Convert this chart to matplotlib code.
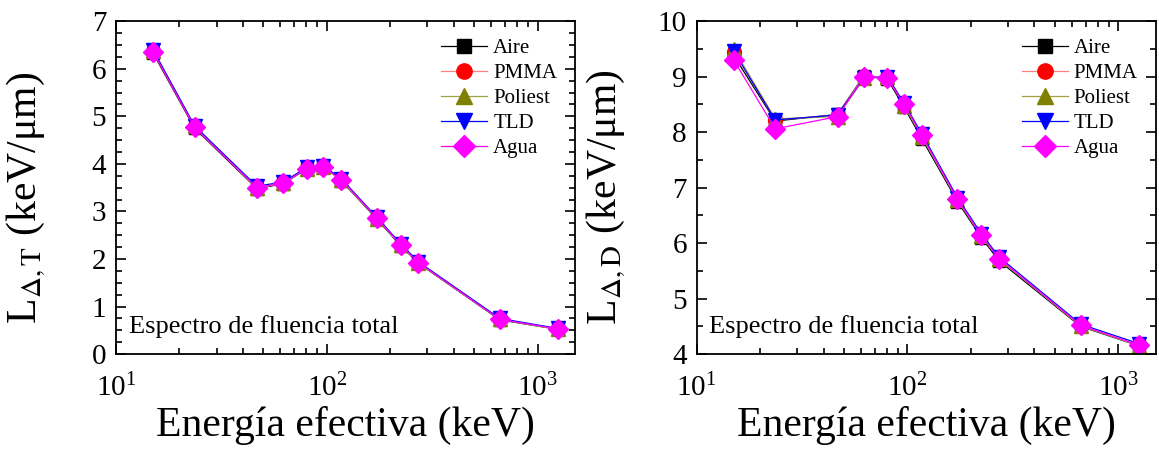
import matplotlib
matplotlib.use("Agg")
import matplotlib.pyplot as plt
from matplotlib.ticker import LogLocator, MultipleLocator, NullFormatter

plt.rcParams["font.family"] = ["Liberation Serif", "DejaVu Serif"]
plt.rcParams["mathtext.fontset"] = "stix"

# effective energies of the beam qualities (keV)
energy = [15, 23.6, 46.6, 62.3, 80.4, 96.4, 117, 172.6, 224, 272, 662, 1250]

materials = ["Aire", "PMMA", "Poliest", "TLD", "Agua"]

# L_Delta,T (keV/um), total fluence spectrum
lt_aire = [6.33, 4.75, 3.48, 3.58, 3.90, 3.95, 3.65, 2.84, 2.28, 1.91, 0.72, 0.52]
lt_pmma = [6.36, 4.77, 3.50, 3.60, 3.91, 3.94, 3.67, 2.86, 2.30, 1.92, 0.73, 0.53]
lt_poliest = [6.38, 4.79, 3.49, 3.59, 3.90, 3.93, 3.66, 2.85, 2.29, 1.91, 0.73, 0.52]
lt_tld = [6.40, 4.80, 3.53, 3.62, 3.93, 3.96, 3.69, 2.88, 2.32, 1.94, 0.75, 0.54]
lt_agua = [6.36, 4.77, 3.50, 3.60, 3.90, 3.93, 3.67, 2.86, 2.30, 1.92, 0.73, 0.53]

# L_Delta,D (keV/um), total fluence spectrum
ld_aire = [9.38, 8.20, 8.32, 9.02, 8.95, 8.45, 7.88, 6.75, 6.10, 5.68, 4.50, 4.15]
ld_pmma = [9.45, 8.22, 8.31, 9.01, 8.97, 8.50, 7.93, 6.79, 6.14, 5.72, 4.52, 4.16]
ld_poliest = [9.50, 8.24, 8.28, 8.97, 9.00, 8.48, 7.92, 6.78, 6.13, 5.71, 4.51, 4.15]
ld_tld = [9.46, 8.22, 8.31, 8.98, 9.00, 8.52, 7.97, 6.82, 6.17, 5.75, 4.54, 4.19]
ld_agua = [9.30, 8.06, 8.28, 9.00, 8.97, 8.50, 7.94, 6.79, 6.14, 5.72, 4.52, 4.16]

styles = {
    "Aire": dict(color="black", mfc="black", mec="black", marker="s", ms=9),
    "PMMA": dict(color="#ff8080", mfc="red", mec="red", marker="o", ms=10),
    "Poliest": dict(color="#a0a040", mfc="#808000", mec="#808000", marker="^", ms=10),
    "TLD": dict(color="blue", mfc="blue", mec="blue", marker="v", ms=10),
    "Agua": dict(color="magenta", mfc="magenta", mec="magenta", marker="D", ms=10),
}


def draw_panel(ax, series, ylim, minor_step, ylabel):
    for name, values in zip(materials, series):
        ax.plot(energy, values, lw=0.9, label=name, **styles[name])
    ax.set_xscale("log")
    ax.set_xlim(10, 1500)
    ax.set_ylim(*ylim)
    ax.yaxis.set_major_locator(MultipleLocator(1))
    ax.yaxis.set_minor_locator(MultipleLocator(minor_step))
    ax.xaxis.set_major_locator(LogLocator(base=10, numticks=10))
    ax.xaxis.set_minor_locator(LogLocator(base=10, subs=range(2, 10), numticks=10))
    ax.xaxis.set_minor_formatter(NullFormatter())
    ax.tick_params(which="both", direction="in", top=True, right=True, width=1.2)
    ax.tick_params(which="major", length=7, labelsize=21)
    ax.tick_params(which="minor", length=4)
    ax.tick_params(axis="y", which="major", pad=7)
    ax.tick_params(axis="x", which="major", pad=14)
    for spine in ax.spines.values():
        spine.set_linewidth(1.3)
    ax.set_xlabel("Energía efectiva (keV)", fontsize=30, labelpad=3)
    ax.set_ylabel(ylabel, fontsize=30)
    ax.yaxis.set_label_coords(-0.149, 0.47)
    ax.text(0.028, 0.05, "Espectro de fluencia total", transform=ax.transAxes,
            fontsize=19, ha="left", va="bottom")
    ax.legend(loc="upper right", frameon=False, fontsize=15, numpoints=1,
              handlelength=2.2, handletextpad=0.3, labelspacing=0.26,
              borderaxespad=0.45, markerscale=1.1)


fig = plt.figure(figsize=(11.59, 4.5), dpi=100)
ax_t = fig.add_axes([0.100, 0.213, 0.396, 0.740])
ax_d = fig.add_axes([0.601, 0.213, 0.396, 0.740])

draw_panel(ax_t, [lt_aire, lt_pmma, lt_poliest, lt_tld, lt_agua], (0, 7), 0.25,
           r"L$_{\Delta,\mathrm{T}}$ (keV/μm)")
draw_panel(ax_d, [ld_aire, ld_pmma, ld_poliest, ld_tld, ld_agua], (4, 10), 0.5,
           r"L$_{\Delta,\mathrm{D}}$ (keV/μm)")

fig.savefig("out.png", dpi=100)
